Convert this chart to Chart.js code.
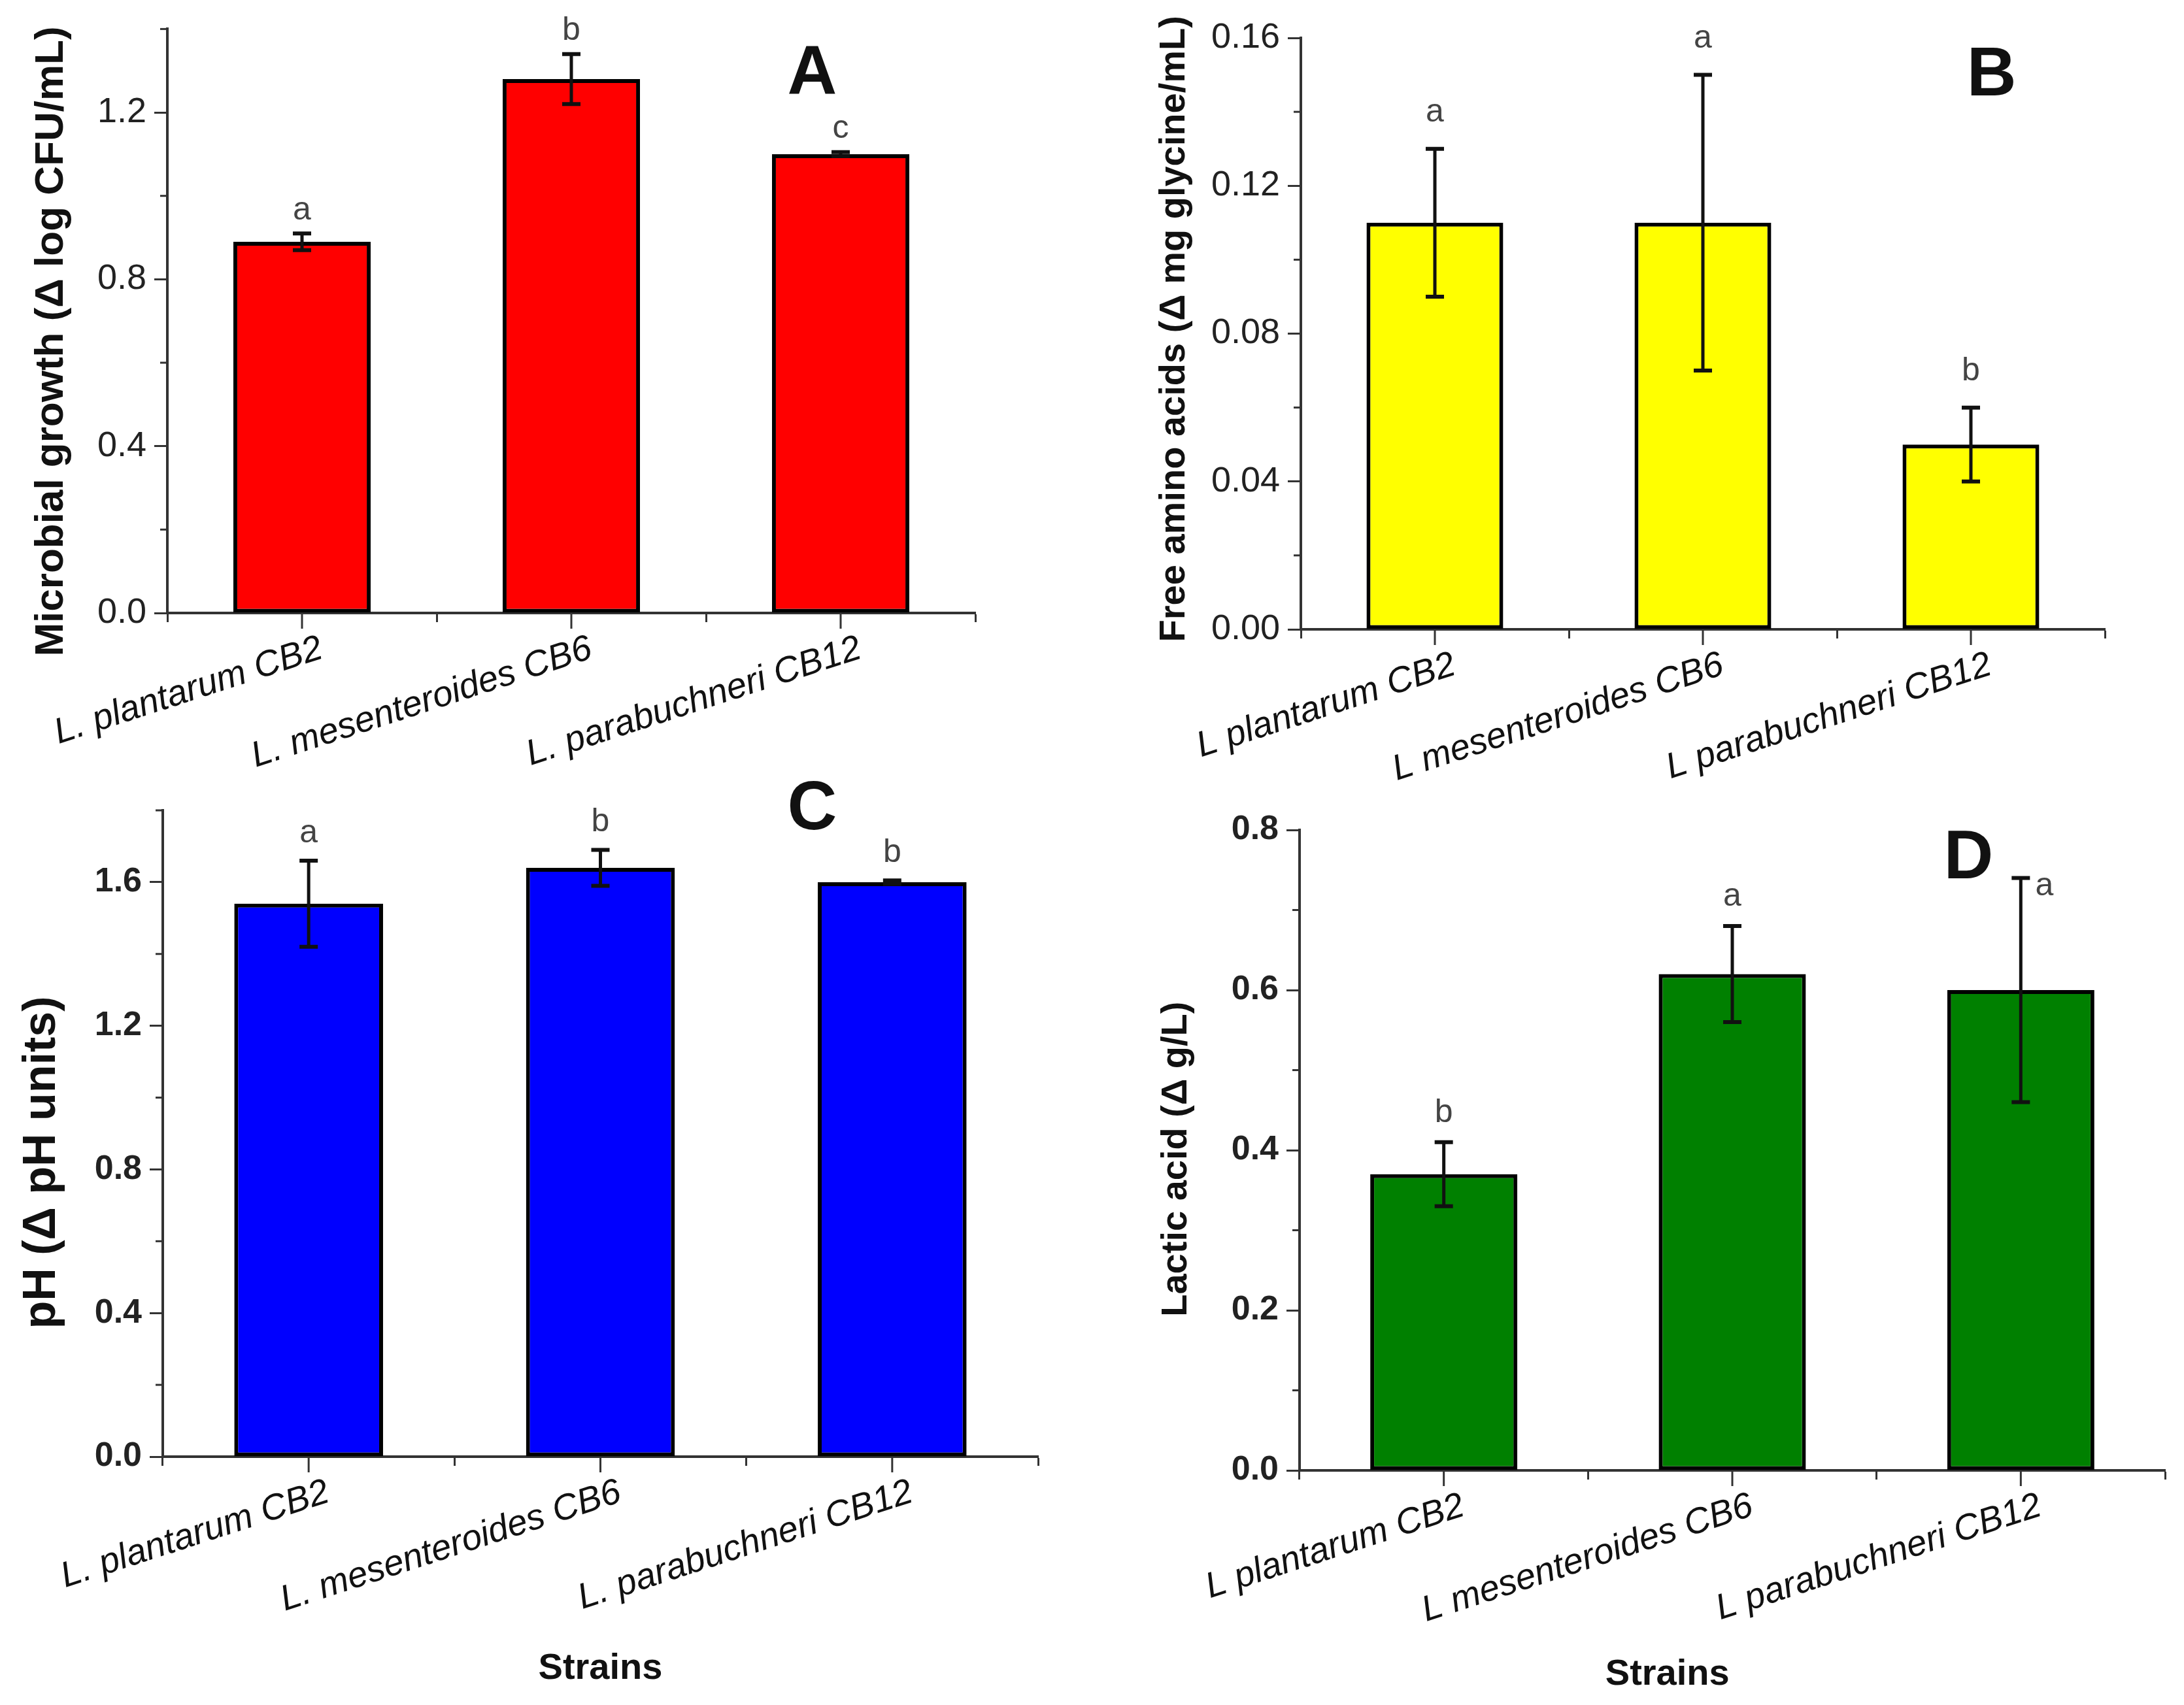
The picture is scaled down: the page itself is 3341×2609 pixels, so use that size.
<!DOCTYPE html>
<html>
<head>
<meta charset="utf-8">
<script src="https://cdn.jsdelivr.net/npm/chart.js@4.4.1/dist/chart.umd.min.js"></script>
<style>
  html, body { margin: 0; padding: 0; background: #fff; }
  body { width: 3341px; height: 2609px; position: relative; overflow: hidden; }
  canvas { position: absolute; }
</style>
</head>
<body>
<canvas id="chartC" width="1650" height="1429" style="left:0;top:1180px"></canvas>
<canvas id="chartD" width="1681" height="1429" style="left:1660px;top:1180px"></canvas>
<canvas id="chartA" width="1650" height="1290" style="left:0;top:0"></canvas>
<canvas id="chartB" width="1681" height="1290" style="left:1660px;top:0"></canvas>
<script>
// strain names (A and C print "L.", B and D print "L")
const strainsDot = ['L. plantarum CB2', 'L. mesenteroides CB6', 'L. parabuchneri CB12'];
const strainsNoDot = ['L plantarum CB2', 'L mesenteroides CB6', 'L parabuchneri CB12'];

// A - microbial growth
const growthMean = [0.89, 1.28, 1.10];
const growthErr = [0.02, 0.06, 0.005];
const growthLetters = ['a', 'b', 'c'];

// B - free amino acids
const aminoMean = [0.11, 0.11, 0.05];
const aminoErr = [0.02, 0.04, 0.01];
const aminoLetters = ['a', 'a', 'b'];

// C - pH
const phMean = [1.54, 1.64, 1.60];
const phErr = [0.12, 0.05, 0.005];
const phLetters = ['a', 'b', 'b'];

// D - lactic acid
const lacticMean = [0.37, 0.62, 0.60];
const lacticErr = [0.04, 0.06, 0.14];
const lacticLetters = ['b', 'a', 'a'];

const NARROW = '"Liberation Sans Narrow", "Arial Narrow", "Liberation Sans", sans-serif';
const SANS = '"Liberation Sans", Arial, sans-serif';
const AXIS = '#333';

// error bars + significance letters + short centre ticks + minor y ticks
const errorBars = {
    id: 'errorBars',
    afterDatasetsDraw(chart, args, opts) {
        const ctx = chart.ctx;
        const y = chart.scales.y;
        const x = chart.scales.x;
        const data = chart.data.datasets[0].data;
        const meta = chart.getDatasetMeta(0);
        ctx.save();
        ctx.strokeStyle = '#111';
        meta.data.forEach((bar, i) => {
            const top = y.getPixelForValue(data[i] + opts.errors[i]);
            const bot = y.getPixelForValue(data[i] - opts.errors[i]);
            ctx.lineWidth = 5;
            ctx.beginPath();
            ctx.moveTo(bar.x, top);
            ctx.lineTo(bar.x, bot);
            ctx.stroke();
            ctx.lineWidth = 6;
            ctx.beginPath();
            ctx.moveTo(bar.x - 14, top);
            ctx.lineTo(bar.x + 14, top);
            ctx.moveTo(bar.x - 14, bot);
            ctx.lineTo(bar.x + 14, bot);
            ctx.stroke();

            const shift = (opts.letterShift && opts.letterShift[i]) || [0, 0];
            ctx.font = '50px ' + NARROW;
            ctx.fillStyle = '#444';
            ctx.textAlign = 'center';
            ctx.textBaseline = 'middle';
            ctx.fillText(opts.letters[i], bar.x + shift[0], top - opts.letterGap + shift[1]);
        });

        // ticks under each category centre
        ctx.strokeStyle = AXIS;
        ctx.lineWidth = 3;
        data.forEach((v, i) => {
            const px = x.getPixelForValue(i);
            ctx.beginPath();
            ctx.moveTo(px, chart.chartArea.bottom);
            ctx.lineTo(px, chart.chartArea.bottom + 24);
            ctx.stroke();
        });

        // minor y ticks
        y.ticks.forEach((t, i) => {
            if (i % 2 === 1) {
                const py = y.getPixelForValue(t.value);
                ctx.beginPath();
                ctx.moveTo(chart.chartArea.left, py);
                ctx.lineTo(chart.chartArea.left - 11, py);
                ctx.stroke();
            }
        });
        ctx.restore();
    }
};

// panel letter, axis titles; placed as fractions of the chart area
const panelText = {
    id: 'panelText',
    afterDraw(chart, args, opts) {
        const ctx = chart.ctx;
        const a = chart.chartArea;
        (opts.items || []).forEach(t => {
            ctx.save();
            ctx.font = t.font;
            ctx.fillStyle = '#111';
            ctx.textAlign = 'center';
            ctx.textBaseline = 'middle';
            ctx.translate(a.left + t.fx * (a.right - a.left), a.top + t.fy * (a.bottom - a.top));
            if (t.rot) ctx.rotate(t.rot * Math.PI / 180);
            ctx.fillText(t.text, 0, 0);
            ctx.restore();
        });
    }
};

function makePanel(id, cfg) {
    const ctx = document.getElementById(id).getContext('2d');
    return new Chart(ctx, {
        type: 'bar',
        data: {
            labels: cfg.labels,
            datasets: [{
                data: cfg.values,
                backgroundColor: cfg.color,
                borderColor: '#000',
                borderWidth: 6,
                borderSkipped: false,
                barPercentage: 0.51,
                categoryPercentage: 1.0
            }]
        },
        options: {
            responsive: false,
            animation: false,
            devicePixelRatio: 1,
            events: [],
            layout: { padding: cfg.padding },
            scales: {
                x: {
                    offset: true,
                    afterFit: s => { s.height = cfg.xHeight; },
                    border: { display: true, color: AXIS, width: 4 },
                    grid: {
                        drawOnChartArea: false, offset: true,
                        tickLength: 14, tickColor: AXIS, tickWidth: 3
                    },
                    ticks: {
                        maxRotation: 18, minRotation: 18,
                        labelOffset: 30, padding: 8,
                        color: '#111',
                        font: { family: SANS, size: 55, style: 'italic' }
                    }
                },
                y: {
                    min: 0, max: cfg.max,
                    afterFit: s => { s.width = cfg.yWidth; },
                    border: { display: true, color: AXIS, width: 4 },
                    grid: {
                        drawOnChartArea: false, tickLength: 20, tickWidth: 3,
                        tickColor: c => (c.index % 2 === 1 ? 'rgba(0,0,0,0)' : AXIS)
                    },
                    ticks: {
                        stepSize: cfg.minorStep,
                        autoSkip: false,
                        padding: 12,
                        color: '#222',
                        font: cfg.tickFont,
                        callback: (v, i) => (i % 2 === 1 ? '' : v.toFixed(cfg.decimals))
                    }
                }
            },
            plugins: {
                legend: { display: false },
                tooltip: { enabled: false },
                errorBars: {
                    errors: cfg.errors, letters: cfg.letters,
                    letterGap: cfg.letterGap, letterShift: cfg.letterShift
                },
                panelText: { items: cfg.texts }
            }
        },
        plugins: [errorBars, panelText]
    });
}

const panelFont = 'bold 105px ' + NARROW;
const plainTicks = { family: NARROW, size: 54 };
const boldTicks = { family: SANS, size: 52, weight: 'bold' };

makePanel('chartA', {
    labels: strainsDot, values: growthMean, errors: growthErr, letters: growthLetters,
    color: '#ff0000', max: 1.4, minorStep: 0.2, decimals: 1, tickFont: plainTicks,
    padding: { left: 0, top: 30, right: 158, bottom: 0 }, yWidth: 256, xHeight: 352,
    letterGap: 35,
    texts: [
        { text: 'A', font: panelFont, fx: 0.798, fy: 0.079 },
        { text: 'Microbial growth (\u0394 log CFU/mL)', font: 'bold 62px ' + SANS, fx: -0.143, fy: 0.535, rot: -90 }
    ]
});

makePanel('chartB', {
    labels: strainsNoDot, values: aminoMean, errors: aminoErr, letters: aminoLetters,
    color: '#ffff00', max: 0.16, minorStep: 0.02, decimals: 2, tickFont: plainTicks,
    padding: { left: 0, top: 58, right: 121, bottom: 0 }, yWidth: 330, xHeight: 327,
    letterGap: 55,
    texts: [
        { text: 'B', font: panelFont, fx: 0.859, fy: 0.065 },
        { text: 'Free amino acids (\u0394 mg glycine/mL)', font: 'bold 56px ' + SANS, fx: -0.157, fy: 0.492, rot: -90 }
    ]
});

makePanel('chartC', {
    labels: strainsDot, values: phMean, errors: phErr, letters: phLetters,
    color: '#0000ff', max: 1.8, minorStep: 0.2, decimals: 1, tickFont: boldTicks,
    padding: { left: 0, top: 60, right: 62, bottom: 0 }, yWidth: 249, xHeight: 380,
    letterGap: 42,
    texts: [
        { text: 'C', font: panelFont, fx: 0.742, fy: 0.0 },
        { text: 'pH (\u0394 pH units)', font: 'bold 70px ' + SANS, fx: -0.138, fy: 0.545, rot: -90 },
        { text: 'Strains', font: 'bold 56px ' + SANS, fx: 0.5, fy: 1.328 }
    ]
});

makePanel('chartD', {
    labels: strainsNoDot, values: lacticMean, errors: lacticErr, letters: lacticLetters,
    color: '#008000', max: 0.8, minorStep: 0.1, decimals: 1, tickFont: boldTicks,
    padding: { left: 0, top: 90, right: 29, bottom: 0 }, yWidth: 328, xHeight: 359,
    letterGap: 45, letterShift: [null, null, [36, 58]],
    texts: [
        { text: 'D', font: panelFont, fx: 0.773, fy: 0.046 },
        { text: 'Lactic acid (\u0394 g/L)', font: 'bold 56px ' + SANS, fx: -0.142, fy: 0.514, rot: -90 },
        { text: 'Strains', font: 'bold 56px ' + SANS, fx: 0.425, fy: 1.319 }
    ]
});
</script>
</body>
</html>
